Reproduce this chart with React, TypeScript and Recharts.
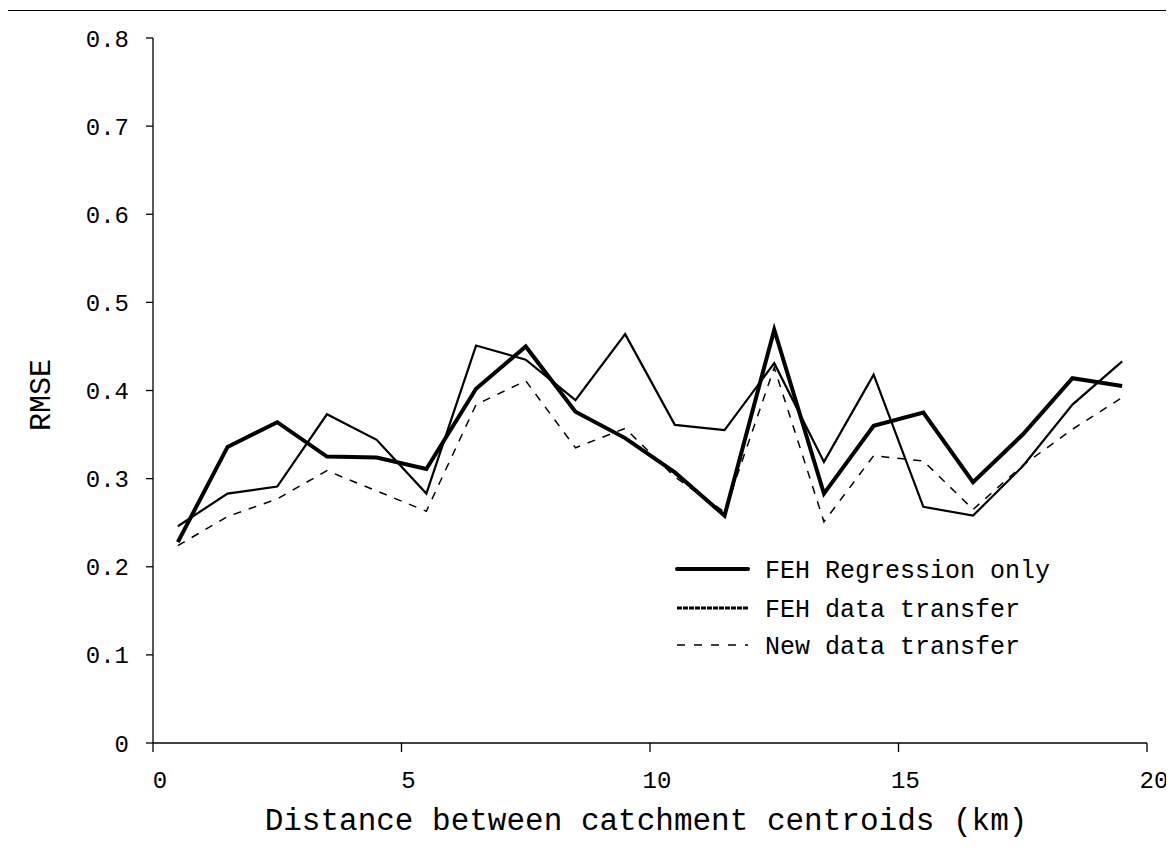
import React from 'react';
import { LineChart, Line, XAxis, YAxis, Legend, Label } from 'recharts';

const distances = [0.5, 1.5, 2.5, 3.5, 4.5, 5.5, 6.5, 7.5, 8.5, 9.5, 10.5, 11.5, 12.5, 13.5, 14.5, 15.5, 16.5, 17.5, 18.5, 19.5];
const fehRegressionOnly = [0.228, 0.336, 0.364, 0.325, 0.324, 0.311, 0.402, 0.450, 0.376, 0.346, 0.307, 0.258, 0.469, 0.283, 0.360, 0.375, 0.296, 0.350, 0.414, 0.405];
const fehDataTransfer = [0.246, 0.283, 0.291, 0.373, 0.344, 0.283, 0.451, 0.435, 0.389, 0.464, 0.361, 0.355, 0.431, 0.319, 0.418, 0.268, 0.258, 0.314, 0.384, 0.433];
const newDataTransfer = [0.224, 0.257, 0.277, 0.309, 0.286, 0.263, 0.384, 0.411, 0.335, 0.357, 0.302, 0.262, 0.426, 0.251, 0.326, 0.320, 0.265, 0.315, 0.356, 0.392];
const xTicks = [0, 5, 10, 15, 20];
const yTicks = [0, 0.1, 0.2, 0.3, 0.4, 0.5, 0.6, 0.7, 0.8];
const seriesNames = ['FEH Regression only', 'FEH data transfer', 'New data transfer'];

const data = distances.map((d, i) => ({
  d,
  reg: fehRegressionOnly[i],
  fdt: fehDataTransfer[i],
  ndt: newDataTransfer[i],
}));

const FONT = '"Liberation Mono", "Courier New", monospace';

const XTick = (props: any) => {
  const { x, y, payload } = props;
  return (
    <text x={x + 7} y={y} dy="0.71em" textAnchor="middle" fontFamily={FONT} fontSize={24} fill="#000">
      {payload.value}
    </text>
  );
};

const YTick = (props: any) => {
  const { x, y, payload } = props;
  return (
    <text x={x} y={y} dy="0.355em" textAnchor="end" fontFamily={FONT} fontSize={24} fill="#000">
      {String(payload.value)}
    </text>
  );
};

const renderLegend = () => {
  const rows = [
    { name: seriesNames[0], w: 4, dash: undefined as string | undefined },
    { name: seriesNames[1], w: 3, dash: '5 1' },
    { name: seriesNames[2], w: 1.5, dash: '8 9' },
  ];
  const ys = [21, 60, 97];
  return (
    <svg width={420} height={120} style={{ display: 'block' }}>
      {rows.map((r, i) => (
        <g key={r.name}>
          <line x1={9} x2={80} y1={ys[i]} y2={ys[i]} stroke="#000" strokeWidth={r.w} strokeDasharray={r.dash} strokeLinecap={i === 0 ? 'round' : 'butt'} />
          <text x={97} y={ys[i]} dy="0.35em" fontFamily={FONT} fontSize={25} fill="#000">{r.name}</text>
        </g>
      ))}
    </svg>
  );
};

export default function App() {
  return (
    <div style={{ position: 'relative', width: 1166, height: 838 }}>
      <div style={{ position: 'absolute', left: -1, top: 2, width: 1166, height: 836, borderTop: '1px solid #000', borderLeft: '1px solid #000' }} />
      <LineChart width={1166} height={838} data={data} margin={{ top: 30, right: 27, bottom: 0, left: 0 }}>
        <XAxis
          dataKey="d"
          type="number"
          domain={[0, 20]}
          ticks={xTicks}
          height={103}
          tickSize={9}
          tickMargin={19}
          tick={<XTick />}
          stroke="#000"
          axisLine={{ stroke: '#000', strokeWidth: 1.3 }}
          tickLine={{ stroke: '#000', strokeWidth: 1.3 }}
        >
          <Label
            content={(p: any) => {
              const vb = p.viewBox;
              return (
                <text x={vb.x + vb.width / 2 - 4} y={vb.y + vb.height - 16} textAnchor="middle" fontFamily={FONT} fontSize={31} fill="#000">
                  Distance between catchment centroids (km)
                </text>
              );
            }}
          />
        </XAxis>
        <YAxis
          type="number"
          domain={[0, 0.8]}
          ticks={yTicks}
          width={145}
          tickSize={7}
          tickMargin={17}
          tick={<YTick />}
          stroke="#000"
          axisLine={{ stroke: '#000', strokeWidth: 1.3 }}
          tickLine={{ stroke: '#000', strokeWidth: 1.3 }}
        >
          <Label
            content={(p: any) => {
              const vb = p.viewBox;
              const cx = 31;
              const cy = 387;
              return (
                <text x={cx} y={cy} transform={`rotate(-90 ${cx} ${cy})`} dy="0.35em" textAnchor="middle" fontFamily={FONT} fontSize={30} fill="#000">
                  RMSE
                </text>
              );
            }}
          />
        </YAxis>
        <Legend
          layout="vertical"
          align="center"
          verticalAlign="middle"
          content={renderLegend}
          wrapperStyle={{ position: 'absolute', left: 660, top: 540, width: 420, height: 120 }}
        />
        <Line type="linear" dataKey="ndt" name={seriesNames[2]} stroke="#000" strokeWidth={1.5} strokeDasharray="8 8" dot={false} isAnimationActive={false} />
        <Line type="linear" dataKey="fdt" name={seriesNames[1]} stroke="#000" strokeWidth={2.2} dot={false} isAnimationActive={false} />
        <Line type="linear" dataKey="reg" name={seriesNames[0]} stroke="#000" strokeWidth={4} dot={false} isAnimationActive={false} />
      </LineChart>
    </div>
  );
}
